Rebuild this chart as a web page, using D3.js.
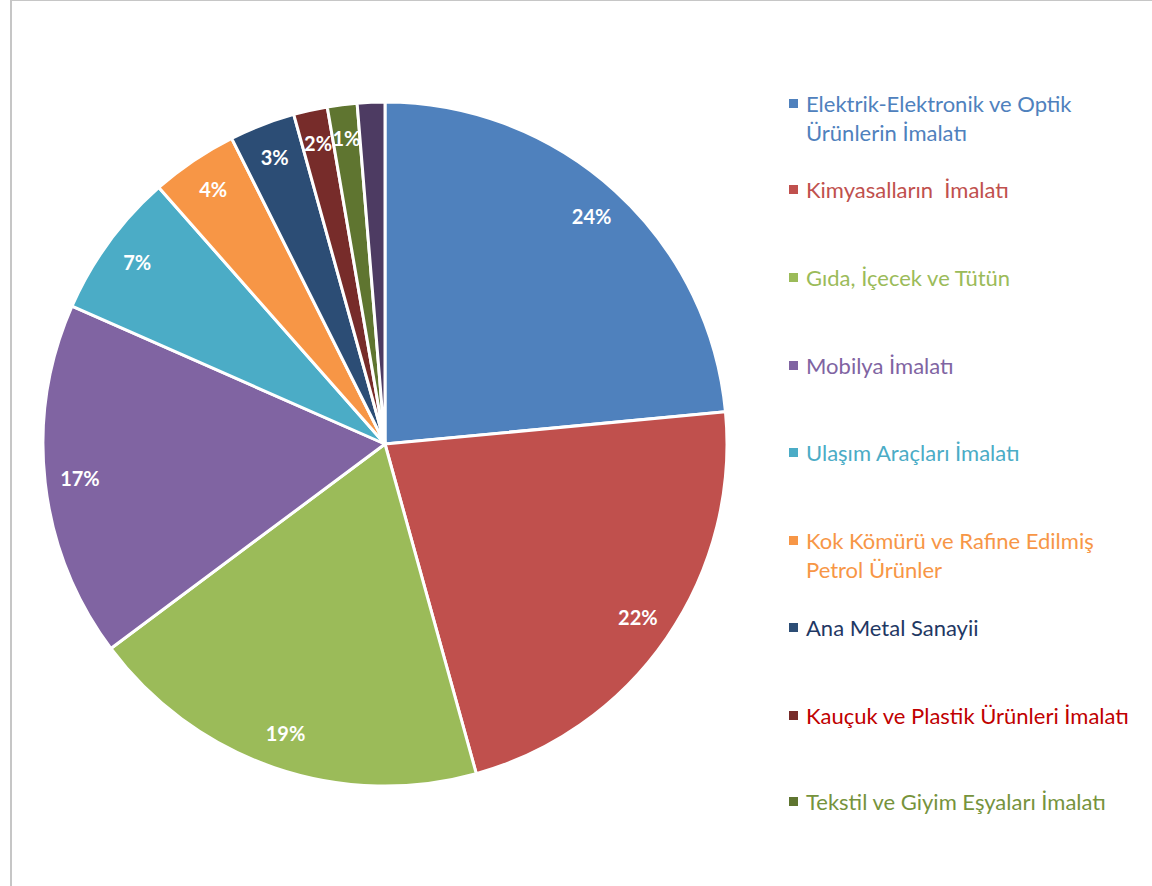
<!DOCTYPE html>
<html>
<head>
<meta charset="utf-8">
<script src="https://cdn.jsdelivr.net/npm/d3@7"></script>
<style>
  html, body { margin: 0; padding: 0; background: #fff; }
  svg { display: block; }
  text { white-space: pre; }
</style>
</head>
<body>
<svg id="chart" width="1152" height="886"></svg>
<script>
// Sector shares (%)
const categories = [
  "Elektrik-Elektronik ve Optik Ürünlerin İmalatı",
  "Kimyasalların  İmalatı",
  "Gıda, İçecek ve Tütün",
  "Mobilya İmalatı",
  "Ulaşım Araçları İmalatı",
  "Kok Kömürü ve Rafine Edilmiş Petrol Ürünler",
  "Ana Metal Sanayii",
  "Kauçuk ve Plastik Ürünleri İmalatı",
  "Tekstil ve Giyim Eşyaları İmalatı",
  "Diğer"
];
const values = [23.5, 22.2, 19.1, 16.8, 6.9, 4.1, 3.1, 1.6, 1.4, 1.3];
// Legend lines (wrapped as displayed); the last sector has no legend row
const legendLines = [
  ["Elektrik-Elektronik ve Optik", "Ürünlerin İmalatı"],
  ["Kimyasalların  İmalatı"],
  ["Gıda, İçecek ve Tütün"],
  ["Mobilya İmalatı"],
  ["Ulaşım Araçları İmalatı"],
  ["Kok Kömürü ve Rafine Edilmiş", "Petrol Ürünler"],
  ["Ana Metal Sanayii"],
  ["Kauçuk ve Plastik Ürünleri İmalatı"],
  ["Tekstil ve Giyim Eşyaları İmalatı"]
];
const sliceColors = ["#4F81BD", "#C0504D", "#9BBB59", "#8064A2", "#4BACC6",
                     "#F79646", "#2C4D75", "#772C2A", "#5F7530", "#4D3B62"];
const legendTextColors = ["#4F81BD", "#C0504D", "#9BBB59", "#8064A2", "#4BACC6",
                          "#F79646", "#1F3864", "#C00000", "#76933C"];
// Sectors whose percentage label is shown
const labelled = [true, true, true, true, true, true, true, true, true, false];

const svg = d3.select("#chart");

// Frame
svg.append("line").attr("x1", 11).attr("y1", 0).attr("x2", 11).attr("y2", 886)
  .attr("stroke", "#c6c6c6").attr("stroke-width", 2);
svg.append("line").attr("x1", 10).attr("y1", 0.5).attr("x2", 1152).attr("y2", 0.5)
  .attr("stroke", "#c6c6c6").attr("stroke-width", 1);

const cx = 385, cy = 444, r = 342;
const total = d3.sum(values);

const pie = d3.pie().sort(null).value(d => d);
const arcs = pie(values);
const arc = d3.arc().innerRadius(0).outerRadius(r);
const labelArc = d3.arc().innerRadius(307).outerRadius(307);

const g = svg.append("g").attr("transform", `translate(${cx},${cy})`);

g.selectAll("path.slice")
  .data(arcs)
  .join("path")
  .attr("class", "slice")
  .attr("d", arc)
  .attr("fill", (d, i) => sliceColors[i])
  .attr("stroke", "#fff")
  .attr("stroke-width", 3)
  .attr("stroke-linejoin", "round");

g.selectAll("text.pct")
  .data(arcs.filter((d, i) => labelled[i]))
  .join("text")
  .attr("class", "pct")
  .attr("transform", d => `translate(${labelArc.centroid(d)})`)
  .attr("text-anchor", "middle")
  .attr("dy", "0.35em")
  .attr("fill", "#fff")
  .attr("font-family", "Lato, 'Open Sans', sans-serif")
  .attr("font-weight", "bold")
  .attr("font-size", 20)
  .text(d => Math.round(d.value / total * 100) + "%");

// Legend
const legendTops = [104, 190, 278, 366, 453, 541, 628, 716, 802];
const lg = svg.append("g").attr("font-family", "Lato, 'Open Sans', sans-serif").attr("font-size", 22);
legendLines.forEach((lines, i) => {
  const y = legendTops[i];
  lg.append("rect").attr("x", 789).attr("y", y - 5).attr("width", 9).attr("height", 9)
    .attr("fill", sliceColors[i]);
  lines.forEach((ln, j) => {
    lg.append("text").attr("x", 806).attr("y", y + j * 29).attr("dy", "0.35em")
      .attr("fill", legendTextColors[i]).text(ln);
  });
});
</script>
</body>
</html>
